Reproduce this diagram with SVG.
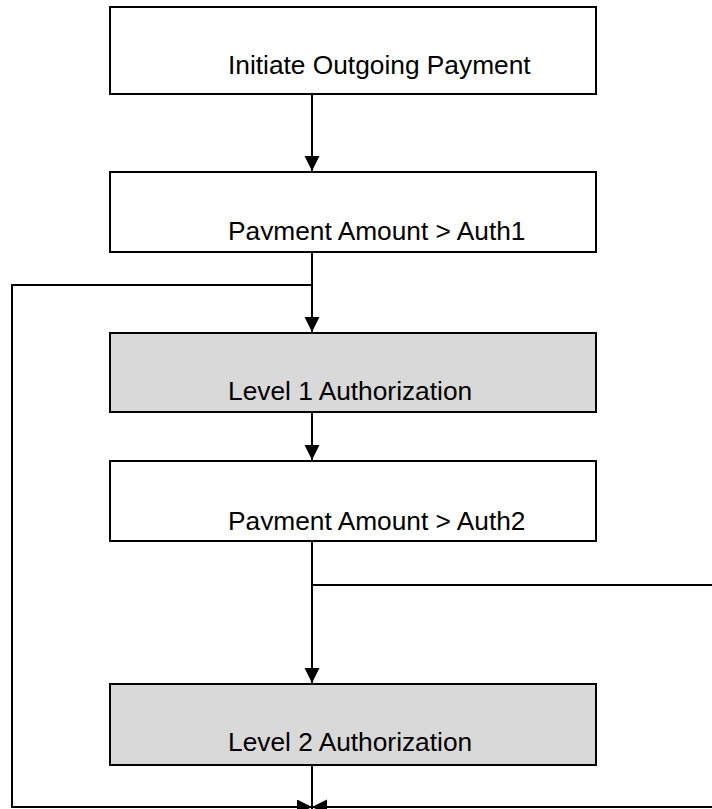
<svg xmlns="http://www.w3.org/2000/svg" width="712" height="809" viewBox="0 0 712 809">
<style>
.box{stroke:#000;stroke-width:2;}
.w{fill:#fff;}
.g{fill:#d9d9d9;}
.t{font-family:"Liberation Sans",Arial,sans-serif;font-size:26.3px;fill:#000;}
.c{fill:none;stroke:#000;stroke-width:2;}
</style>
<defs>
<marker id="ah" markerUnits="userSpaceOnUse" markerWidth="16" markerHeight="16" refX="15" refY="7.5" orient="auto" viewBox="0 0 16 16">
<path d="M0,0 L15,7.5 L0,15 z" fill="#000"/>
</marker>
<clipPath id="clip2"><rect x="110" y="172" width="486" height="68"/></clipPath>
<clipPath id="clip4"><rect x="110" y="461" width="486" height="69"/></clipPath>
</defs>
<rect width="712" height="809" fill="#fff"/>
<g id="connectors">
<line class="c" x1="312" y1="95" x2="312" y2="171" marker-end="url(#ah)"/>
<line class="c" x1="312" y1="252" x2="312" y2="332" marker-end="url(#ah)"/>
<line class="c" x1="312" y1="412" x2="312" y2="460" marker-end="url(#ah)"/>
<line class="c" x1="312" y1="541" x2="312" y2="683" marker-end="url(#ah)"/>
<line class="c" x1="312" y1="765" x2="312" y2="820"/>
<polyline class="c" points="312,285 12,285 12,807 312,807" marker-end="url(#ah)"/>
<polyline class="c" points="312,585 730,585 730,807 312,807" marker-end="url(#ah)"/>
</g>
<g id="node1">
<rect class="box w" x="110" y="7" width="486" height="87"/>
<text class="t" x="228" y="74">Initiate Outgoing Payment</text>
</g>
<g id="node2">
<rect class="box w" x="110" y="172" width="486" height="80"/>
<text class="t" x="228" y="240.3" clip-path="url(#clip2)">Payment Amount &gt; Auth1</text>
</g>
<g id="node3">
<rect class="box g" x="110" y="333" width="486" height="79"/>
<text class="t" x="228" y="400">Level 1 Authorization</text>
</g>
<g id="node4">
<rect class="box w" x="110" y="461" width="486" height="80"/>
<text class="t" x="228" y="529.5" clip-path="url(#clip4)">Payment Amount &gt; Auth2</text>
</g>
<g id="node5">
<rect class="box g" x="110" y="684" width="486" height="81"/>
<text class="t" x="228" y="751">Level 2 Authorization</text>
</g>
</svg>
